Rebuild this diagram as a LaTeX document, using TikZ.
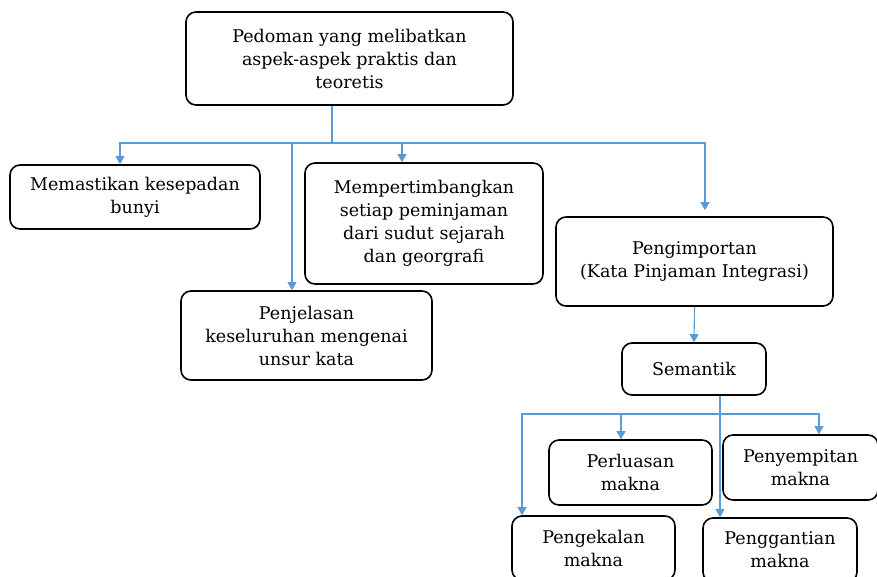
\documentclass[tikz,border=0pt]{standalone}
\usepackage{fontspec}
\setmainfont{DejaVu Serif}
\usetikzlibrary{arrows.meta,positioning,calc}
\definecolor{linkblue}{HTML}{5B9BD5}

\begin{document}
\begin{tikzpicture}[
    x=1pt, y=-1pt,
    box/.style={rectangle, draw, line width=1.6pt, rounded corners=10pt, align=center, inner sep=2pt, font=\fontsize{17.5}{23}\selectfont},
    link/.style={draw=linkblue, line width=1.1pt},
    arrowlink/.style={link, -{Triangle[width=9pt,length=8pt]}, linkblue}
]
\clip (0,0) rectangle (877,576);

% Top
\node[box, minimum width=327pt, minimum height=93pt] (guide) at (349.5,58.5) {Pedoman yang melibatkan\\aspek-aspek praktis dan\\teoretis};

% First level
\node[box, minimum width=250pt, minimum height=64pt] (sound) at (135,197) {Memastikan kesepadan\\bunyi};
\node[box, minimum width=238pt, minimum height=121pt] (history) at (424,223.5) {Mempertimbangkan\\setiap peminjaman\\dari sudut sejarah\\dan georgrafi};
\node[box, minimum width=251pt, minimum height=89pt] (explain) at (306.5,335.5) {Penjelasan\\keseluruhan mengenai\\unsur kata};
\node[box, minimum width=277pt, minimum height=89pt] (import) at (694.5,261.5) {Pengimportan\\(Kata Pinjaman Integrasi)};

% Semantics
\node[box, minimum width=144pt, minimum height=52pt] (semantic) at (694,369) {Semantik};

% Second level
\node[box, minimum width=163pt, minimum height=65pt] (widen) at (630.5,472.5) {Perluasan\\makna};
\node[box, minimum width=155pt, minimum height=65pt] (narrow) at (800.5,467.5) {Penyempitan\\makna};
\node[box, minimum width=163pt, minimum height=64pt] (keep) at (593.5,548) {Pengekalan\\makna};
\node[box, minimum width=154pt, minimum height=64pt] (replace) at (780,550) {Penggantian\\makna};

% Connectors
\coordinate (hub) at (332,143);
\draw[link] (guide.south -| hub) -- (hub);
\draw[arrowlink] (hub) -| ([xshift=-15pt]sound.north);
\draw[arrowlink] (hub) -| ([xshift=-14.5pt]explain.north);
\draw[arrowlink] (hub) -| ([xshift=-22pt]history.north);
\draw[arrowlink] (hub) -| ([xshift=10.5pt, yshift=6pt]import.north);
\draw[arrowlink] (import.south) -- (semantic.north);

\coordinate (hub2) at (720,414);
\draw[arrowlink] (semantic.south -| hub2) -- (hub2 |- replace.north);
\draw[arrowlink] (hub2) -| ([xshift=-71.5pt]keep.north);
\draw[arrowlink] (hub2) -| ([xshift=-9.5pt]widen.north);
\draw[arrowlink] (hub2) -| ([xshift=18.5pt]narrow.north);

\end{tikzpicture}
\end{document}
